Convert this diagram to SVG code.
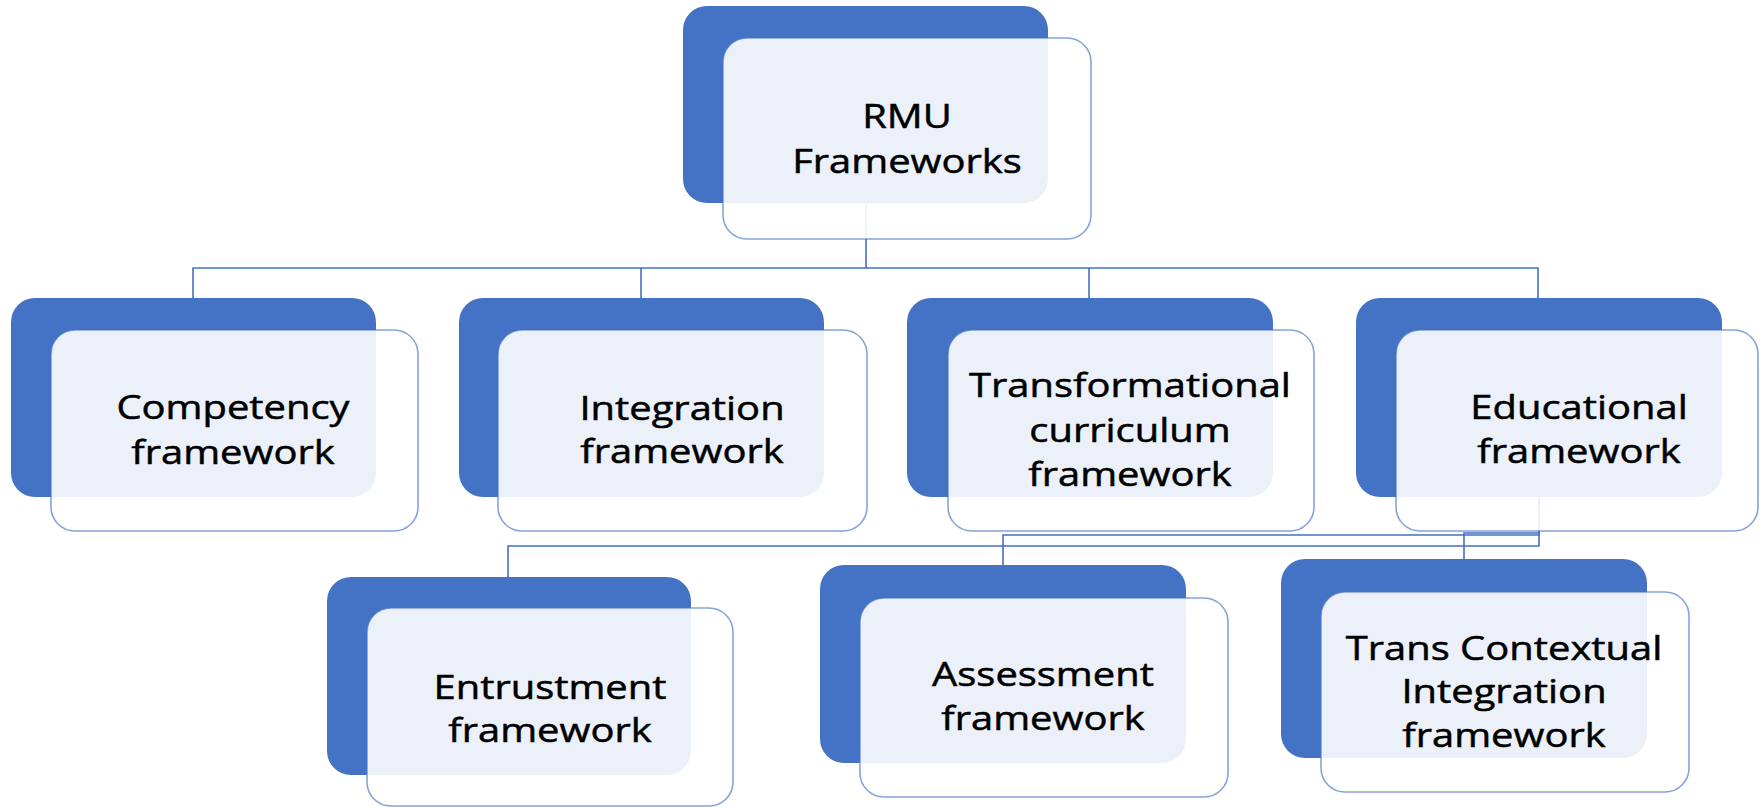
<svg xmlns="http://www.w3.org/2000/svg" width="1760" height="807" viewBox="0 0 1760 807">
<style>
.bg{fill:#4472C4;}
.fg{fill:#ffffff;fill-opacity:0.9;stroke:#4472C4;stroke-opacity:0.65;stroke-width:1.6;}
.conn{fill:none;stroke:#4472C4;stroke-width:1.6;}
.lbl{font-family:"Open Sans","Noto Sans",sans-serif;font-size:33px;fill:#000;stroke:#000;stroke-width:0.5;text-anchor:middle;}
</style>
<rect width="1760" height="807" fill="#ffffff"/>
<g id="connectors">
<path class="conn" d="M866,203 V268 M193,298 V268 H1538 V298 M641,268 V298 M1089,268 V298"/>
<path class="conn" d="M1539,497 V546 H508 V577"/>
<path class="conn" d="M1539,497 V535 H1003 V565"/>
<path class="conn" d="M1539,497 V533 H1464 V559"/>
</g>
<g id="node-rmu">
<rect class="bg" x="683" y="6" width="365" height="197" rx="24"/>
<rect class="fg" x="723" y="38" width="368" height="201" rx="24"/>
<text class="lbl" transform="translate(907,0) scale(1.21,1)"><tspan x="0" y="128">RMU</tspan><tspan x="0" y="173">Frameworks</tspan></text>
</g>
<g id="node-competency">
<rect class="bg" x="11" y="298" width="365" height="199" rx="24"/>
<rect class="fg" x="51" y="330" width="367" height="201" rx="24"/>
<text class="lbl" transform="translate(233,0) scale(1.21,1)"><tspan x="0" y="419">Competency</tspan><tspan x="0" y="464">framework</tspan></text>
</g>
<g id="node-integration">
<rect class="bg" x="459" y="298" width="365" height="199" rx="24"/>
<rect class="fg" x="498" y="330" width="369" height="201" rx="24"/>
<text class="lbl" transform="translate(682,0) scale(1.21,1)"><tspan x="0" y="420">Integration</tspan><tspan x="0" y="463">framework</tspan></text>
</g>
<g id="node-transformational">
<rect class="bg" x="907" y="298" width="366" height="199" rx="24"/>
<rect class="fg" x="948" y="330" width="366" height="201" rx="24"/>
<text class="lbl" transform="translate(1130,0) scale(1.21,1)"><tspan x="0" y="397">Transformational</tspan><tspan x="0" y="442">curriculum</tspan><tspan x="0" y="486">framework</tspan></text>
</g>
<g id="node-educational">
<rect class="bg" x="1356" y="298" width="366" height="199" rx="24"/>
<rect class="fg" x="1396" y="330" width="362" height="201" rx="24"/>
<text class="lbl" transform="translate(1579,0) scale(1.21,1)"><tspan x="0" y="419">Educational</tspan><tspan x="0" y="463">framework</tspan></text>
</g>
<g id="node-entrustment">
<rect class="bg" x="327" y="577" width="364" height="198" rx="24"/>
<rect class="fg" x="367" y="608" width="366" height="198" rx="24"/>
<text class="lbl" transform="translate(550,0) scale(1.21,1)"><tspan x="0" y="699">Entrustment</tspan><tspan x="0" y="742">framework</tspan></text>
</g>
<g id="node-assessment">
<rect class="bg" x="820" y="565" width="366" height="198" rx="24"/>
<rect class="fg" x="860" y="598" width="368" height="199" rx="24"/>
<text class="lbl" transform="translate(1043,0) scale(1.21,1)"><tspan x="0" y="686">Assessment</tspan><tspan x="0" y="730">framework</tspan></text>
</g>
<g id="node-transcontextual">
<rect class="bg" x="1281" y="559" width="366" height="199" rx="24"/>
<rect class="fg" x="1321" y="592" width="368" height="200" rx="24"/>
<text class="lbl" transform="translate(1504,0) scale(1.21,1)"><tspan x="0" y="660">Trans Contextual</tspan><tspan x="0" y="703">Integration</tspan><tspan x="0" y="747">framework</tspan></text>
</g>
</svg>
